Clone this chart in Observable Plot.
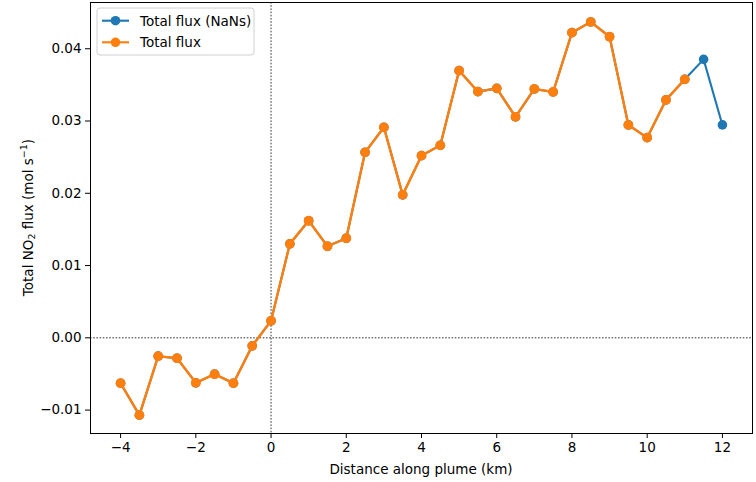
<!DOCTYPE html>
<html>
<head>
<meta charset="utf-8">
<script src="https://cdn.jsdelivr.net/npm/d3@7"></script>
<script src="https://cdn.jsdelivr.net/npm/@observablehq/plot@0.6"></script>
<style>
  html, body { margin: 0; padding: 0; background: #fff; }
  #chart svg { display: block; }
</style>
</head>
<body>
<div id="chart"></div>
<script>
// Distance along the plume (km), every 0.5 km
const distance = [-4, -3.5, -3, -2.5, -2, -1.5, -1, -0.5, 0, 0.5, 1, 1.5, 2, 2.5, 3, 3.5,
  4, 4.5, 5, 5.5, 6, 6.5, 7, 7.5, 8, 8.5, 9, 9.5, 10, 10.5, 11, 11.5, 12];

// Total NO2 flux (mol s^-1), including cross-sections with missing pixels
const fluxWithNaNs = [-0.00628, -0.0107, -0.00254, -0.00282, -0.00623, -0.00503, -0.00628, -0.00111,
  0.00235, 0.0130, 0.0162, 0.01267, 0.01378, 0.02567, 0.02913, 0.01978,
  0.02521, 0.02664, 0.03697, 0.03407, 0.03452, 0.03057, 0.03444, 0.03402,
  0.04223, 0.04371, 0.04167, 0.02946, 0.0277, 0.03292, 0.03577, 0.03853, 0.02946];

// Total flux with the incomplete cross-sections removed (last two are NaN)
const fluxValid = fluxWithNaNs.map((v, i) => (distance[i] <= 11 ? v : NaN));

const xTicks = [-4, -2, 0, 2, 4, 6, 8, 10, 12];
const yTicks = [-0.01, 0, 0.01, 0.02, 0.03, 0.04];
const seriesNames = ["Total flux (NaNs)", "Total flux"];
const seriesColors = ["#1f77b4", "#ff7f0e"];

const nanRows = distance.map((d, i) => ({d, v: fluxWithNaNs[i]}));
const validRows = distance.map((d, i) => ({d, v: fluxValid[i]})).filter(r => !Number.isNaN(r.v));

const W = 756, H = 482;
const font = "DejaVu Sans, sans-serif";
const fs = 13.5;

const plot = Plot.plot({
  width: W,
  height: H,
  marginLeft: 90,
  marginRight: 4,
  marginTop: 2,
  marginBottom: 49,
  style: {fontFamily: font, fontSize: fs + "px", color: "#000", background: "#fff"},
  x: {domain: [-4.8, 12.8]},
  y: {domain: [-0.01324, 0.0464]},
  marks: [
    Plot.ruleX([0], {stroke: "#000", strokeWidth: 0.8, strokeDasharray: "1.6,1.6"}),
    Plot.ruleY([0], {stroke: "#000", strokeWidth: 0.8, strokeDasharray: "1.6,1.6"}),
    Plot.line(nanRows, {x: "d", y: "v", stroke: seriesColors[0], strokeWidth: 2.1}),
    Plot.dot(nanRows, {x: "d", y: "v", fill: seriesColors[0], r: 4.8}),
    Plot.line(validRows, {x: "d", y: "v", stroke: seriesColors[1], strokeWidth: 2.4}),
    Plot.dot(validRows, {x: "d", y: "v", fill: seriesColors[1], r: 4.9}),
    Plot.frame({stroke: "#000", strokeWidth: 1}),
    Plot.axisX({ticks: xTicks, tickSize: 5, tickPadding: 4, label: null, fontSize: fs,
      tickFormat: d3.format("d")}),
    Plot.axisY({ticks: yTicks, tickSize: 5, tickPadding: 4, label: null, fontSize: fs,
      tickFormat: d3.format(".2f")})
  ]
});

const svg = d3.select(plot);

// Axis titles
svg.append("text")
  .attr("x", (90 + W - 4) / 2)
  .attr("y", 474)
  .attr("text-anchor", "middle")
  .attr("font-family", font)
  .attr("font-size", fs)
  .attr("fill", "#000")
  .text("Distance along plume (km)");

const yTitle = svg.append("text")
  .attr("transform", `translate(28,${(2 + H - 49) / 2}) rotate(-90)`)
  .attr("text-anchor", "middle")
  .attr("dominant-baseline", "central")
  .attr("font-family", font)
  .attr("font-size", fs)
  .attr("fill", "#000");
yTitle.append("tspan").text("Total NO");
yTitle.append("tspan").attr("font-size", 9.5).attr("dy", 3).text("2");
yTitle.append("tspan").attr("dy", -3).text(" flux (mol s");
yTitle.append("tspan").attr("font-size", 9.5).attr("dy", -5).text("\u22121");
yTitle.append("tspan").attr("dy", 5).text(")");

// Legend box in the upper-left corner of the axes
const lg = svg.append("g").attr("transform", "translate(97,8)");
lg.append("rect")
  .attr("width", 157).attr("height", 47).attr("rx", 3)
  .attr("fill", "#fff").attr("fill-opacity", 0.8)
  .attr("stroke", "#d0d0d0").attr("stroke-width", 1);
seriesNames.forEach((name, i) => {
  const y = 12.7 + i * 21.6;
  lg.append("line").attr("x1", 5).attr("x2", 32).attr("y1", y).attr("y2", y)
    .attr("stroke", seriesColors[i]).attr("stroke-width", 2.1);
  lg.append("circle").attr("cx", 18.5).attr("cy", y).attr("r", 4.8).attr("fill", seriesColors[i]);
  lg.append("text").attr("x", 43).attr("y", y)
    .attr("text-anchor", "start")
    .attr("dominant-baseline", "central")
    .attr("font-family", font).attr("font-size", fs).attr("fill", "#000").text(name);
});

document.getElementById("chart").appendChild(plot);
</script>
</body>
</html>
